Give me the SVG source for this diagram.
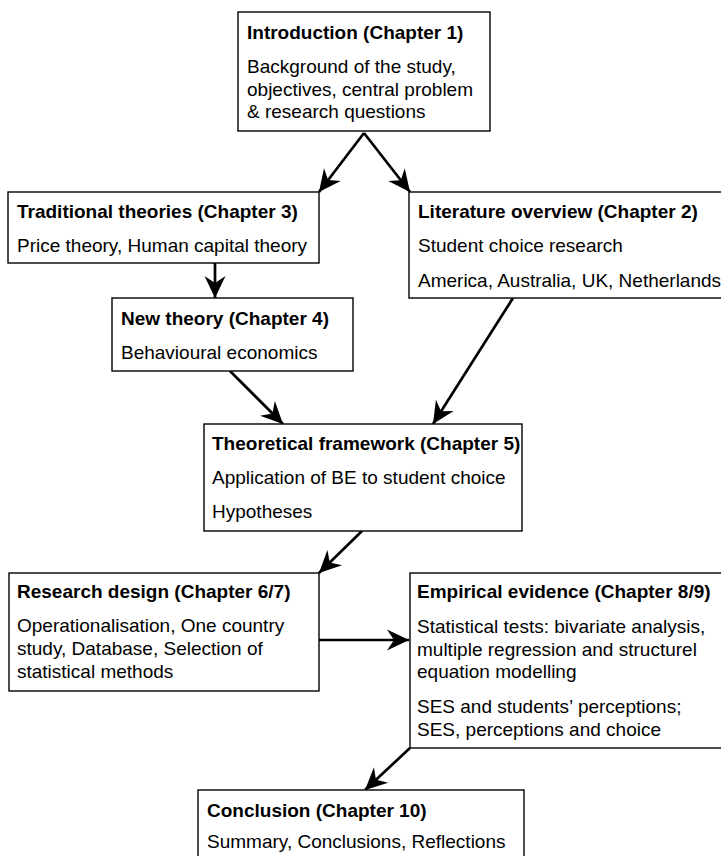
<svg xmlns="http://www.w3.org/2000/svg" width="721" height="856" viewBox="0 0 721 856">
<style>
  .box { fill: #ffffff; stroke: #000000; stroke-width: 1.4; }
  .t { font-family: "Liberation Sans", Arial, sans-serif; font-size: 19px; font-weight: bold; fill: #000000; }
  .b { font-family: "Liberation Sans", Arial, sans-serif; font-size: 19px; fill: #000000; }
  .conn { fill: none; stroke: #000000; stroke-width: 2.7; marker-end: url(#arrow); }
</style>
<defs>
  <marker id="arrow" markerUnits="userSpaceOnUse" markerWidth="30" markerHeight="30" refX="0" refY="0" orient="auto" overflow="visible">
    <path d="M0,0 L-22,-10.5 L-15,0 L-22,10.5 Z" fill="#000000"/>
  </marker>
</defs>
<rect width="721" height="856" fill="#ffffff"/>

<g id="connectors">
  <line class="conn" x1="364" y1="133" x2="319" y2="192"/>
  <line class="conn" x1="364" y1="133" x2="410" y2="192"/>
  <line class="conn" x1="215" y1="263" x2="215" y2="298"/>
  <line class="conn" x1="230" y1="371" x2="283" y2="424"/>
  <line class="conn" x1="513" y1="298" x2="433" y2="424"/>
  <line class="conn" x1="362" y1="531" x2="319" y2="573"/>
  <line class="conn" x1="319" y1="640" x2="409" y2="640"/>
  <line class="conn" x1="410" y1="748" x2="365" y2="790"/>
</g>

<g id="intro">
  <rect class="box" x="238" y="12" width="252" height="119"/>
  <text class="t" x="247" y="39">Introduction (Chapter 1)</text>
  <text class="b" x="247" y="73">Background of the study,</text>
  <text class="b" x="247" y="95.5">objectives, central problem</text>
  <text class="b" x="247" y="118">&amp; research questions</text>
</g>

<g id="traditional">
  <rect class="box" x="8" y="192" width="311" height="71"/>
  <text class="t" x="17" y="218">Traditional theories (Chapter 3)</text>
  <text class="b" x="17" y="252">Price theory, Human capital theory</text>
</g>

<g id="literature">
  <rect class="box" x="409" y="192" width="330" height="106"/>
  <text class="t" x="418" y="218">Literature overview (Chapter 2)</text>
  <text class="b" x="418" y="252">Student choice research</text>
  <text class="b" x="418" y="287">America, Australia, UK, Netherlands</text>
</g>

<g id="newtheory">
  <rect class="box" x="112" y="298" width="241" height="73"/>
  <text class="t" x="121" y="325">New theory (Chapter 4)</text>
  <text class="b" x="121" y="359">Behavioural economics</text>
</g>

<g id="framework">
  <rect class="box" x="204" y="424" width="318" height="107"/>
  <text class="t" x="212" y="450">Theoretical framework (Chapter 5)</text>
  <text class="b" x="212" y="484">Application of BE to student choice</text>
  <text class="b" x="212" y="518">Hypotheses</text>
</g>

<g id="research">
  <rect class="box" x="9" y="573" width="310" height="118"/>
  <text class="t" x="17" y="598">Research design (Chapter 6/7)</text>
  <text class="b" x="17" y="632">Operationalisation, One country</text>
  <text class="b" x="17" y="655">study, Database, Selection of</text>
  <text class="b" x="17" y="678">statistical methods</text>
</g>

<g id="empirical">
  <rect class="box" x="410" y="573" width="330" height="175"/>
  <text class="t" x="417" y="598">Empirical evidence (Chapter 8/9)</text>
  <text class="b" x="417" y="633">Statistical tests: bivariate analysis,</text>
  <text class="b" x="417" y="655.5">multiple regression and structurel</text>
  <text class="b" x="417" y="678">equation modelling</text>
  <text class="b" x="417" y="713">SES and students’ perceptions;</text>
  <text class="b" x="417" y="736">SES, perceptions and choice</text>
</g>

<g id="conclusion">
  <rect class="box" x="198" y="790" width="326" height="80"/>
  <text class="t" x="207" y="817">Conclusion (Chapter 10)</text>
  <text class="b" x="207" y="848">Summary, Conclusions, Reflections</text>
</g>
</svg>
